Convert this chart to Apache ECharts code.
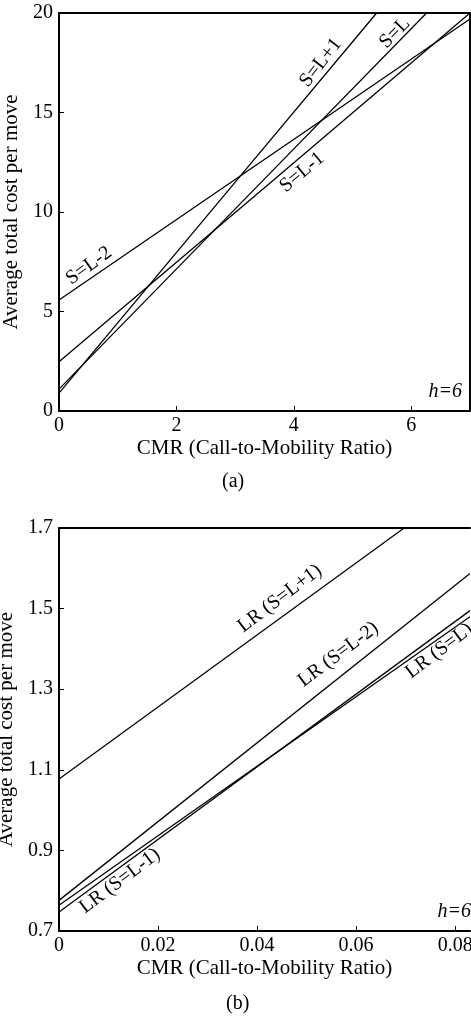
<!DOCTYPE html>
<html><head><meta charset="utf-8">
<script src="https://cdn.jsdelivr.net/npm/echarts@6/dist/echarts.min.js"></script>
<style>html,body{margin:0;padding:0;background:#fff}#c{width:471px;height:1021px}</style>
</head><body><div id="c"></div>
<script>
// ---------- Panel (a): h=6, CMR 0..7 ----------
const aNames = ['S=L+1', 'S=L', 'S=L-1', 'S=L-2'];
const aX_Lp1 = [0, 3.03, 5.41];
const aY_Lp1 = [0.9, 11.6, 20];
const aX_L   = [0, 3.48, 6.26];
const aY_L   = [1.1, 11.6, 20];
const aX_Lm1 = [0, 3.65, 7];
const aY_Lm1 = [2.48, 11.6, 20];
const aX_Lm2 = [0, 3.03, 7];
const aY_Lm2 = [5.58, 11.7, 19.7];

// ---------- Panel (b): h=6, CMR 0..0.083 ----------
const bNames = ['LR (S=L+1)', 'LR (S=L-2)', 'LR (S=L)', 'LR (S=L-1)'];
const bX_Lp1 = [0, 0.0697];
const bY_Lp1 = [1.077, 1.7];
const bX_Lm2 = [0, 0.083];
const bY_Lm2 = [0.776, 1.587];
const bX_L   = [0, 0.083];
const bY_L   = [0.764, 1.480];
const bX_Lm1 = [0, 0.083];
const bY_Lm1 = [0.747, 1.495];

const xTitle = 'CMR (Call-to-Mobility Ratio)';
const yTitle = 'Average total cost per move';

const FONT = 'Liberation Serif';
const zip = (xs, ys) => xs.map((x, i) => [x, ys[i]]);

const aData = [zip(aX_Lp1, aY_Lp1), zip(aX_L, aY_L), zip(aX_Lm1, aY_Lm1), zip(aX_Lm2, aY_Lm2)];
const bData = [zip(bX_Lp1, bY_Lp1), zip(bX_Lm2, bY_Lm2), zip(bX_L, bY_L), zip(bX_Lm1, bY_Lm1)];

// curve label placement (annotation layout, data units + angle)
const aLabelPos = [[4.46, 17.5, 52], [5.72, 19.0, 46], [4.14, 12.0, 40], [0.51, 7.3, 36]];
const bLabelPos = [[0.0446, 1.525, 37], [0.0564, 1.386, 37], [0.0768, 1.395, 37], [0.0123, 0.824, 37]];

const blk = '#000';
function mainX(grid, min, max, interval) {
  return {
    gridIndex: grid, type: 'value', min, max, interval, position: 'bottom',
    axisLine: { show: true, onZero: false, lineStyle: { color: blk, width: 2 } },
    axisTick: { show: true, inside: true, length: 5, lineStyle: { color: blk } },
    axisLabel: { show: true, color: blk, fontFamily: FONT, fontSize: 20, margin: 5, showMaxLabel: false },
    splitLine: { show: false },
    name: xTitle, nameLocation: 'middle', nameGap: 27,
    nameTextStyle: { color: blk, fontFamily: FONT, fontSize: 21 }
  };
}
function mainY(grid, min, max, interval, fmt) {
  return {
    gridIndex: grid, type: 'value', min, max, interval, position: 'left',
    axisLine: { show: true, onZero: false, lineStyle: { color: blk, width: 2 } },
    axisTick: { show: true, inside: true, length: 5, lineStyle: { color: blk } },
    axisLabel: { show: true, color: blk, fontFamily: FONT, fontSize: 20, margin: 6, formatter: fmt },
    splitLine: { show: false },
    name: yTitle, nameLocation: 'middle', nameGap: 32, nameRotate: 90,
    nameTextStyle: { color: blk, fontFamily: FONT, fontSize: 21 }
  };
}
function borderAxis(grid, pos, min, max) {
  return {
    gridIndex: grid, type: 'value', min, max, position: pos,
    axisLine: { show: true, onZero: false, lineStyle: { color: blk, width: 2 } },
    axisTick: { show: false }, axisLabel: { show: false }, splitLine: { show: false }
  };
}

const series = [];
aNames.forEach((n, i) => series.push({
  type: 'line', name: n, xAxisIndex: 0, yAxisIndex: 0, data: aData[i],
  showSymbol: false, symbol: 'none', clip: true,
  lineStyle: { color: blk, width: 1.3 }, silent: true
}));
bNames.forEach((n, i) => series.push({
  type: 'line', name: n, xAxisIndex: 2, yAxisIndex: 2, data: bData[i],
  showSymbol: false, symbol: 'none', clip: true,
  lineStyle: { color: blk, width: 1.3 }, silent: true
}));
function labelSeries(names, pos, xi, yi) {
  return {
    type: 'scatter', xAxisIndex: xi, yAxisIndex: yi, symbolSize: 0, silent: true, clip: false,
    itemStyle: { color: blk, opacity: 1 }, z: 10,
    labelLayout: { hideOverlap: false },
    data: names.map((n, i) => ({
      name: n, value: [pos[i][0], pos[i][1]],
      label: { show: true, rotate: pos[i][2], position: 'inside', formatter: n,
               color: blk, opacity: 1, textBorderWidth: 0, fontFamily: FONT, fontSize: 20 }
    }))
  };
}
series.push(labelSeries(aNames, aLabelPos, 0, 0));
series.push(labelSeries(bNames, bLabelPos, 2, 2));

const chart = echarts.init(document.getElementById('c'), null, { renderer: 'canvas' });
chart.setOption({
  animation: false,
  backgroundColor: '#fff',
  grid: [
    { left: 59, top: 13, right: 1, bottom: 610, containLabel: false, outerBoundsMode: 'none' },
    { left: 59, top: 528, right: 1, bottom: 90, containLabel: false, outerBoundsMode: 'none' }
  ],
  xAxis: [
    mainX(0, 0, 7, 2),
    borderAxis(0, 'top', 0, 7),
    mainX(1, 0, 0.083, 0.02),
    borderAxis(1, 'top', 0, 0.083)
  ],
  yAxis: [
    mainY(0, 0, 20, 5),
    borderAxis(0, 'right', 0, 20),
    mainY(1, 0.7, 1.7, 0.2, v => (+v).toFixed(1))
  ],
  series,
  graphic: [
    { type: 'text', left: 222, top: 472, style: { text: '(a)', font: '20px "Liberation Serif"', fill: blk } },
    { type: 'text', left: 226, top: 994, style: { text: '(b)', font: '20px "Liberation Serif"', fill: blk } },
    { type: 'text', right: 9, top: 382, style: { text: 'h=6', font: 'italic 20px "Liberation Serif"', fill: blk } },
    { type: 'text', right: 0, top: 902, style: { text: 'h=6', font: 'italic 20px "Liberation Serif"', fill: blk } }
  ]
});
</script>
</body></html>
